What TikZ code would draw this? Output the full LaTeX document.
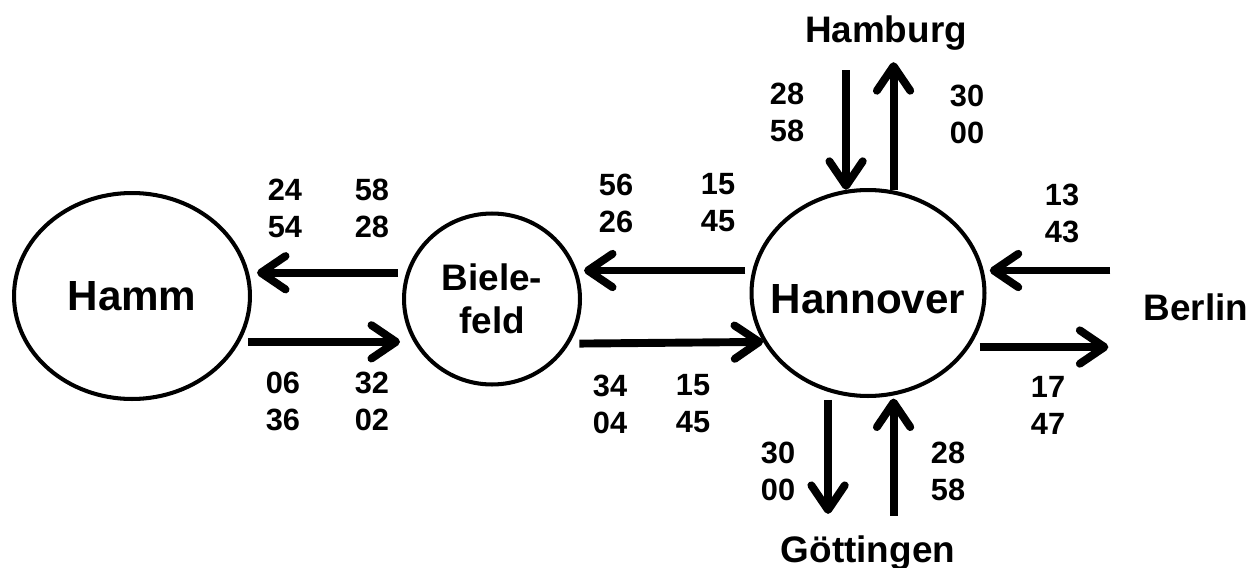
\documentclass[tikz,border=0pt]{standalone}
\usepackage{fontspec}
\setmainfont{Liberation Sans}
\usetikzlibrary{shapes.geometric,arrows.meta}

\begin{document}
\begin{tikzpicture}[x=0.02cm,y=-0.02cm]
    \tikzstyle{city} = [ellipse, draw, line width=2.3pt, inner sep=0pt,
    font=\bfseries\fontsize{24}{29}\selectfont, align=center]
    \tikzstyle{place} = [inner sep=0pt, anchor=base,
    font=\bfseries\fontsize{21}{25}\selectfont]
    \tikzstyle{num} = [inner sep=0pt, align=center,
    font=\bfseries\fontsize{17.5}{21}\selectfont]
    \tikzstyle{flow} = [draw, line width=4.5pt,
    -{Straight Barb[length=14pt,width=19pt,round]}]

    \useasboundingbox (0,0) rectangle (1258,568);

    % Stations
    \node[city, minimum width=4.72cm, minimum height=4.12cm] (hamm) at (132,296) {Hamm};
    \node[city, minimum width=3.52cm, minimum height=3.42cm,
    font=\bfseries\fontsize{21}{24.5}\selectfont] (biel) at (492,299) {Biele-\\feld};
    \node[city, minimum width=4.66cm, minimum height=4.12cm,
    inner xsep=-0.3cm, text height=0.84cm] (hann) at (868,293) {Hannover};

    \node[place] (hamburg) at (886,42) {Hamburg};
    \node[place] (goett) at (868,562) {Göttingen};
    \node[place] (berlin) at (1196,320) {Berlin};

    % Hamm -- Bielefeld
    \draw[flow, shorten <=0.16cm, shorten >=0.1cm] (biel.163) -- (biel.163 -| hamm.east);
    \draw[flow, shorten <=0.16cm, shorten >=0.04cm] (hamm.-23) -- (hamm.-23 -| biel.west);

    % Bielefeld -- Hannover
    \draw[flow, shorten <=0.14cm, shorten >=0.04cm] (hann.169) -- (hann.169 -| biel.east);
    \draw[flow, shorten <=0.2cm] (biel.-30) -- (hann.205);

    % Hamburg
    \draw[flow, shorten <=0.4cm] (hann.102 |- hamburg.south) -- (hann.102);
    \draw[flow, shorten >=0.24cm] (hann.76) -- (hann.76 |- hamburg.south);

    % Goettingen
    \draw[flow, shorten <=0.16cm, shorten >=0.42cm] (hann.248) -- (hann.248 |- goett.north);
    \draw[flow, shorten <=0.38cm, shorten >=0.06cm] (hann.284 |- goett.north) -- (hann.284);

    % Berlin
    \draw[flow, shorten <=0.66cm, shorten >=0.12cm] (hann.11 -| berlin.west) -- (hann.11);
    \draw[flow, shorten <=0.2cm, shorten >=0.7cm] (hann.-28) -- (hann.-28 -| berlin.west);

    % Departure minutes
    \node[num] (hb1) at (285,208) {24\\54};
    \node[num] (hb2) at (372,208) {58\\28};
    \node[num] (hb3) at (283,401) {06\\36};
    \node[num] (hb4) at (372,401) {32\\02};
    \node[num] (bh1) at (616,203) {56\\26};
    \node[num] (bh2) at (718,203) {15\\45};
    \node[num] (bh3) at (610,404) {34\\04};
    \node[num] (bh4) at (693,404) {15\\45};
    \node[num] (hh1) at (787,112) {28\\58};
    \node[num] (hh2) at (967,114) {30\\00};
    \node[num] (hl1) at (1062,213) {13\\43};
    \node[num] (hl2) at (1048,405) {17\\47};
    \node[num] (hg1) at (778,471) {30\\00};
    \node[num] (hg2) at (948,471) {28\\58};

\end{tikzpicture}
\end{document}
